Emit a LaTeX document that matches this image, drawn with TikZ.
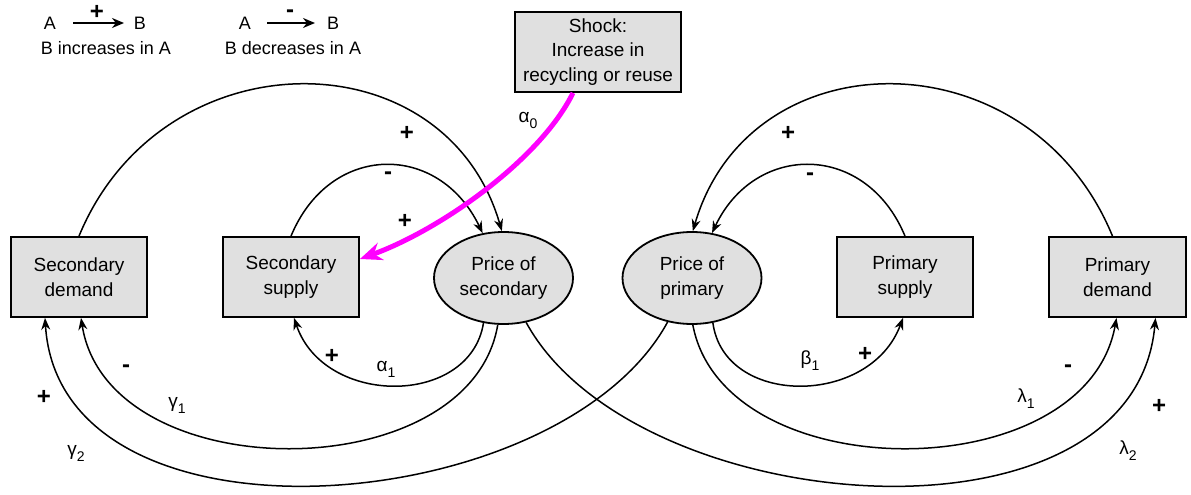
\documentclass[tikz,border=0pt]{standalone}
\usepackage{fontspec}
\setmainfont{Liberation Sans}
\usetikzlibrary{arrows.meta,shapes.geometric}
\definecolor{boxgray}{RGB}{224,224,224}
\definecolor{shockpink}{RGB}{255,0,255}
\newcommand{\mynodefont}{\fontsize{19}{24.5}\selectfont}
\newcommand{\mylegfont}{\fontsize{18}{22}\selectfont}
\newcommand{\mysignfont}{\fontsize{24}{26}\selectfont\bfseries}
\newcommand{\myparamfont}{\fontsize{19}{22}\selectfont}
\newcommand{\mysub}[2]{#1\raisebox{-6pt}{\fontsize{14}{14}\selectfont #2}}
\begin{document}
\begin{tikzpicture}[x=1pt,y=-1pt,
  box/.style={draw=black,line width=1.8pt,fill=boxgray,rectangle,minimum width=136pt,minimum height=80pt,inner sep=0pt,align=center,font=\mynodefont},
  price/.style={draw=black,line width=1.8pt,fill=boxgray,ellipse,minimum width=139pt,minimum height=92pt,inner sep=0pt,align=center,font=\mynodefont},
  link/.style={line width=1.5pt,-{Stealth[length=12pt,width=9pt]}},
  legarrow/.style={line width=2pt,-{Stealth[length=12pt,width=10pt]}},
  shockarrow/.style={line width=5pt,draw=shockpink,-{Stealth[length=22pt,width=18pt]}},
  sign/.style={font=\mysignfont,inner sep=0pt},
  param/.style={font=\myparamfont,inner sep=0pt},
  legtext/.style={font=\mylegfont,inner sep=0pt}
]
\useasboundingbox (0,0) rectangle (1191,495);

% legend
\node[legtext] (a1) at (50,23) {A};
\node[legtext] (b1) at (140,23) {B};
\draw[legarrow] ([xshift=23pt]a1.center) -- ([xshift=-16pt]b1.center);
\node[sign] (lp) at (97,12) {+};
\node[legtext] (li) at (106,48) {B increases in A};
\node[legtext] (a2) at (245,23) {A};
\node[legtext] (b2) at (333,23) {B};
\draw[legarrow] ([xshift=22pt]a2.center) -- ([xshift=-18pt]b2.center);
\node[sign] (lm) at (290,14) {-};
\node[legtext] (ld) at (293,48) {B decreases in A};

% nodes
\node[box] (sd) at (79,277) {Secondary\\demand};
\node[box] (ss) at (291,277) {Secondary\\supply};
\node[price] (ps) at (503.5,278) {Price of\\secondary};
\node[price] (pp) at (692,278) {Price of\\primary};
\node[box] (pS) at (905,277) {Primary\\supply};
\node[box,minimum width=137pt] (pd) at (1117.5,277) {Primary\\demand};
\node[box,minimum width=166pt] (sh) at (598,52) {Shock:\\Increase in\\recycling or reuse};

% top arcs
\draw[link] (sd.north) .. controls (162,35) and (445,35) .. (ps.92);
\draw[link] (ss.north) .. controls (330,142) and (439,142) .. (ps.115);
\draw[link] ([xshift=-5pt]pd.north) .. controls (1030,35) and (750,35) .. (pp.89);
\draw[link] (pS.north) .. controls (866,142) and (755,142) .. (pp.66);

% bottom arcs
\draw[link] (ps.-114) .. controls (470,407) and (324,407) .. ([xshift=3pt]ss.south);
\draw[link] (ps.-97) .. controls (470,490) and (108,490) .. ([xshift=2pt]sd.south);
\draw[link] (pp.-119) .. controls (560,520) and (60,560) .. ([xshift=-34pt]sd.south);
\draw[link] (ps.-63) .. controls (634,520) and (1134,560) .. ([xshift=38pt]pd.south);
\draw[link] (pp.-89) .. controls (724,490) and (1086,490) .. ([xshift=-1pt]pd.south);
\draw[link] (pp.-65) .. controls (724,407) and (870,407) .. ([xshift=-2pt]pS.south);

% shock
\draw[shockarrow] ([xshift=-25pt]sh.south) .. controls (540,160) and (440,230) .. ([yshift=18pt]ss.east);

% labels
\node[sign] (s1) at (407,133) {+};
\node[sign] (s2) at (388,176) {-};
\node[sign] (s3) at (405,221) {+};
\node[param] (p0) at (528,120) {\mysub{α}{0}};
\node[sign] (s4) at (788,133) {+};
\node[sign] (s5) at (810,177) {-};
\node[sign] (s6) at (332,356) {+};
\node[param] (p1) at (386,369) {\mysub{α}{1}};
\node[sign] (s7) at (126,369) {-};
\node[param] (p2) at (177,405) {\mysub{γ}{1}};
\node[sign] (s8) at (44,397) {+};
\node[param] (p3) at (76,453) {\mysub{γ}{2}};
\node[param] (p4) at (810,361) {\mysub{β}{1}};
\node[sign] (s9) at (865,354) {+};
\node[sign] (s10) at (1068,369) {-};
\node[param] (p5) at (1026,399) {\mysub{λ}{1}};
\node[sign] (s11) at (1159,406) {+};
\node[param] (p6) at (1128,451) {\mysub{λ}{2}};
\end{tikzpicture}
\end{document}
